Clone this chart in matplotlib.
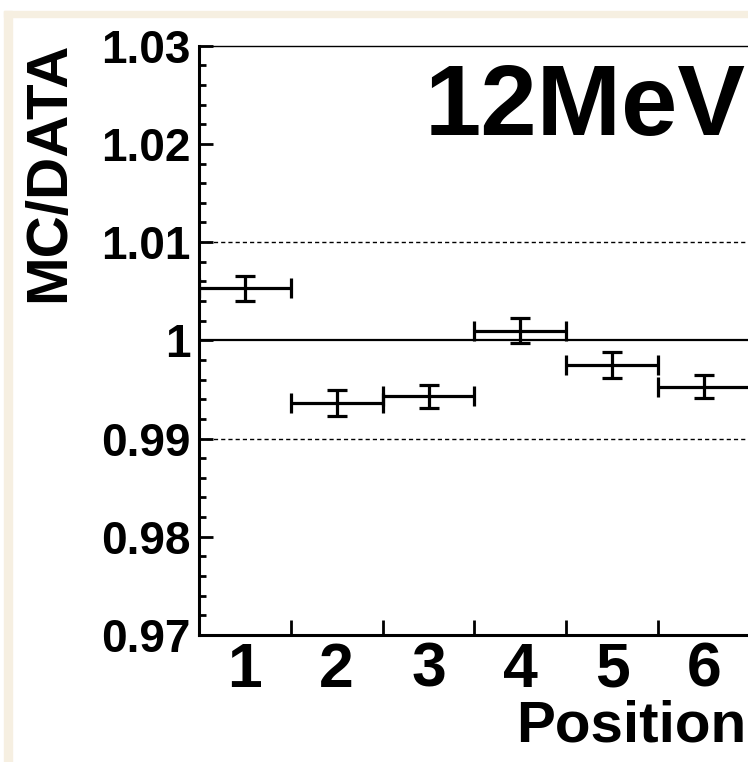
import matplotlib
matplotlib.use("Agg")
import matplotlib.pyplot as plt
from matplotlib.patches import Rectangle

# Ratio of simulation to data per detector position (12 MeV beam)
positions = [1, 2, 3, 4, 5, 6]
ratio = [1.0053, 0.9936, 0.9943, 1.0010, 0.9975, 0.9953]
ratio_err = [0.0013, 0.0013, 0.0012, 0.0013, 0.0013, 0.0012]
bin_halfwidth = [0.5] * len(positions)

y_ticks = [0.97, 0.98, 0.99, 1.0, 1.01, 1.02, 1.03]
y_tick_labels = ["0.97", "0.98", "0.99", "1", "1.01", "1.02", "1.03"]
x_tick_labels = ["1", "2", "3", "4", "5", "6"]

W, H = 748, 762
fig = plt.figure(figsize=(W / 100, H / 100), dpi=100)
fig.patch.set_facecolor("white")
plt.rcParams["font.family"] = ["Liberation Sans", "DejaVu Sans"]
plt.rcParams["font.weight"] = "bold"

# beige page frame
beige = "#f6efe1"
fig.patches.append(Rectangle((4 / W, 0), 8 / W, (H - 11) / H,
                             transform=fig.transFigure, color=beige, zorder=0))
fig.patches.append(Rectangle((4 / W, (H - 17) / H), (W - 4) / W, 6 / H,
                             transform=fig.transFigure, color=beige, zorder=0))

bin_px = 91.8
n_bins = 7
left_px, top_px, bottom_px = 199, 45.7, 635
ax = fig.add_axes([left_px / W, (H - bottom_px) / H,
                   n_bins * bin_px / W, (bottom_px - top_px) / H])
ax.set_facecolor("white")
ax.set_xlim(0.5, 0.5 + n_bins)
ax.set_ylim(0.97, 1.03)

for s in ["left", "bottom"]:
    ax.spines[s].set_linewidth(2.2)
ax.spines["top"].set_linewidth(1.0)
ax.spines["right"].set_linewidth(2.2)

# reference lines
ax.axhline(1.0, color="black", lw=1.6, zorder=2)
for yv in (1.01, 0.99):
    ax.axhline(yv, color="black", lw=1.0, linestyle=(0, (3, 2.2)), zorder=2)

ax.errorbar(positions, ratio, yerr=ratio_err, xerr=bin_halfwidth,
            fmt="none", ecolor="black", elinewidth=2.3, capsize=7,
            capthick=2.3, zorder=3)

# y axis ticks
ax.set_yticks(y_ticks)
ax.set_yticklabels(y_tick_labels)
ax.yaxis.set_minor_locator(matplotlib.ticker.MultipleLocator(0.002))
ax.tick_params(axis="y", which="major", direction="in", length=10, width=2,
               labelsize=33, pad=6)
ax.tick_params(axis="y", which="minor", direction="in", length=5, width=2)

# x axis: labels at bin centres, tick marks at bin edges
ax.set_xticks(positions)
ax.set_xticklabels(x_tick_labels)
ax.set_xticks([i + 0.5 for i in range(1, n_bins)], minor=True)
ax.tick_params(axis="x", which="major", length=0, labelsize=45, pad=4)
ax.tick_params(axis="x", which="minor", direction="in", length=11, width=2)
for lab in ax.get_xticklabels() + ax.get_yticklabels():
    lab.set_fontweight("bold")

fig.text(22 / W, 1 - 42 / H, "MC/DATA", rotation=90, ha="left", va="top",
         fontsize=42, fontweight="bold")
fig.text(746 / W, 1 - 742 / H, "Position", ha="right", va="baseline",
         fontsize=42, fontweight="bold")
fig.text(425 / W, 1 - 135 / H, "12MeV", ha="left", va="baseline",
         fontsize=73, fontweight="bold")

fig.savefig("out.png", dpi=100, facecolor=fig.get_facecolor())
